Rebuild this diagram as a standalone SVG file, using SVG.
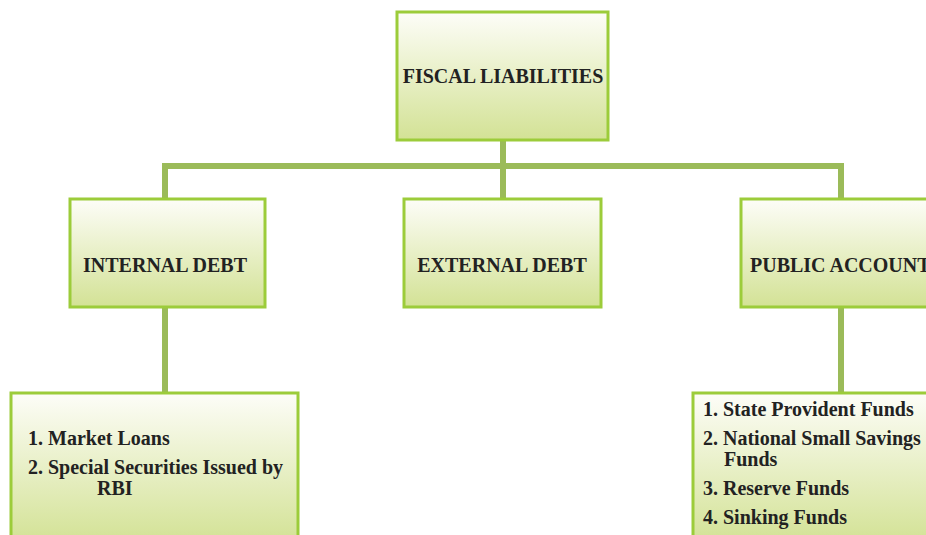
<svg xmlns="http://www.w3.org/2000/svg" width="926" height="535" viewBox="0 0 926 535">
<defs>
<linearGradient id="g" x1="0" y1="0" x2="0" y2="1">
<stop offset="0" stop-color="#fdfdf8"/>
<stop offset="1" stop-color="#d3e295"/>
</linearGradient>
<style>
.box{fill:url(#g);stroke:#9ccc3a;stroke-width:3}
.t{font-family:"Liberation Serif","Times New Roman",serif;font-weight:bold;font-size:20px;fill:#222}
.l{font-family:"Liberation Serif","Times New Roman",serif;font-weight:bold;font-size:20px;fill:#222}
.c{stroke:#9bbb59;stroke-width:6;fill:none}
</style>
</defs>
<rect width="926" height="535" fill="#fff"/>
<g id="connectors">
<path class="c" d="M165 198V166H841V198"/>
<path class="c" d="M503 140V198"/>
<path class="c" d="M165 307V393"/>
<path class="c" d="M841 307V393"/>
</g>
<g id="fiscal">
<rect class="box" x="397" y="12" width="211" height="128"/>
<text class="t" x="503" y="83" text-anchor="middle">FISCAL LIABILITIES</text>
</g>
<g id="internal">
<rect class="box" x="70" y="199" width="195" height="108"/>
<text class="t" x="165" y="272" text-anchor="middle">INTERNAL DEBT</text>
</g>
<g id="external">
<rect class="box" x="404" y="199" width="197" height="108"/>
<text class="t" x="502" y="272" text-anchor="middle">EXTERNAL DEBT</text>
</g>
<g id="public">
<rect class="box" x="741" y="199" width="200" height="108"/>
<text class="t" x="750" y="272">PUBLIC ACCOUNT</text>
</g>
<g id="internal-list">
<rect class="box" x="11" y="393" width="287" height="150"/>
<text class="l" x="28" y="445">1. Market Loans</text>
<text class="l" x="28" y="474">2. Special Securities Issued by</text>
<text class="l" x="97" y="495">RBI</text>
</g>
<g id="public-list">
<rect class="box" x="693" y="393" width="250" height="150"/>
<text class="l" x="703" y="416">1. State Provident Funds</text>
<text class="l" x="703" y="445">2. National Small Savings</text>
<text class="l" x="724" y="466">Funds</text>
<text class="l" x="703" y="495">3. Reserve Funds</text>
<text class="l" x="703" y="524">4. Sinking Funds</text>
</g>
</svg>
